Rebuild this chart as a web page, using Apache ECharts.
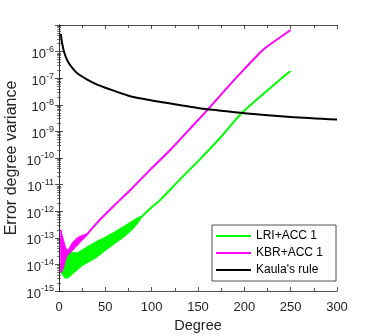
<!DOCTYPE html>
<html>
<head>
<meta charset="utf-8">
<script src="https://cdn.jsdelivr.net/npm/echarts@6/dist/echarts.min.js"></script>
<style>
  html, body { margin: 0; padding: 0; background: #fff; }
  #main { width: 374px; height: 335px; }
</style>
</head>
<body>
<div id="main"></div>
<script>
// Kaula's rule
const kaulaDeg = [2, 3, 4, 5, 7, 10, 15, 20, 30, 40, 50, 75, 100, 125, 150, 175, 200, 250, 300]
const kaulaVal = [4.5e-6, 2.4e-6, 1.6e-6, 1.12e-6, 6.8e-7, 4.0e-7, 2.3e-7, 1.5e-7, 9.1e-8, 6.0e-8, 4.4e-8, 2.2e-8, 1.45e-8, 1.05e-8, 7.6e-9, 6.0e-9, 4.8e-9, 3.5e-9, 2.8e-9]

// LRI+ACC 1 : noisy band at low degrees, then a single line
const lriBandDeg = [2, 4, 6, 8, 10, 12, 15, 20, 25, 30, 40, 50, 60, 70, 80, 88]
const lriBandUpper = [1.12e-14, 1.26e-14, 1.78e-14, 2.5e-14, 3.2e-14, 3.2e-14, 2.8e-14, 2.8e-14, 3.5e-14, 4.5e-14, 7.1e-14, 1.07e-13, 1.66e-13, 2.7e-13, 4.5e-13, 6.3e-13]
const lriBandLower = [5.0e-15, 4.0e-15, 3.2e-15, 3.0e-15, 3.2e-15, 3.5e-15, 4.5e-15, 6.3e-15, 8.9e-15, 1.12e-14, 1.78e-14, 3.3e-14, 6.0e-14, 1.07e-13, 2.2e-13, 5.0e-13]
const lriDeg = [88, 100, 109, 130, 152, 175, 197, 228, 250]
const lriVal = [5.6e-13, 1.4e-12, 2.6e-12, 1.5e-11, 8.9e-11, 6.3e-10, 4.8e-9, 4.3e-8, 1.9e-7]

// KBR+ACC 1
const kbrBandDeg = [2, 3, 5, 7, 9, 11, 14, 18, 22, 26, 30]
const kbrBandUpper = [2.0e-13, 1.41e-13, 7.9e-14, 4.5e-14, 3.5e-14, 4.0e-14, 6.3e-14, 8.9e-14, 1.12e-13, 1.26e-13, 1.41e-13]
const kbrBandLower = [5.0e-15, 5.0e-15, 7.9e-15, 1.41e-14, 2.2e-14, 2.5e-14, 3.2e-14, 4.5e-14, 6.3e-14, 8.9e-14, 1.2e-13]
const kbrDeg = [30, 44, 60, 77, 98, 120, 140, 160, 184, 200, 220, 235, 250]
const kbrVal = [1.32e-13, 4.7e-13, 1.7e-12, 6.3e-12, 3.5e-11, 2.0e-10, 1.12e-9, 6.3e-9, 5.5e-8, 2.2e-7, 1.15e-6, 2.8e-6, 6.5e-6]

const xTicks = [0, 50, 100, 150, 200, 250, 300]

const GREEN = '#00ff00'
const MAGENTA = '#ff00ff'
const AXIS = '#262626'
const FONT = 'Liberation Sans'

const pairs = (xs, ys) => xs.map((x, i) => [x, ys[i]])

// filled band between upper and lower envelope, placed with the axes' own scales
const bandSeries = (color, deg, up, lo) => ({
  type: 'custom',
  silent: true,
  xAxisIndex: 0,
  yAxisIndex: 0,
  data: pairs(deg, up),
  renderItem: (params, api) => {
    if (params.dataIndex !== 0) return
    const top = deg.map((d, i) => api.coord([d, up[i]]))
    const bottom = deg.map((d, i) => api.coord([d, lo[i]])).reverse()
    return {
      type: 'polygon',
      shape: { points: top.concat(bottom), smooth: 0.15 },
      style: { fill: color, stroke: color, lineWidth: 1 }
    }
  }
})

const expLabel = (v) => {
  const e = Math.round(Math.log10(v))
  return '{b|10}{s|' + e + '}'
}

const tickStyle = { inside: true, length: 4, lineStyle: { color: AXIS, width: 0.8 } }
const axisLineStyle = { show: true, lineStyle: { color: AXIS, width: 0.8 } }
const xMinor = { show: true, splitNumber: 2, length: 3, lineStyle: { color: AXIS, width: 0.8 } }
const yMinor = { show: true, splitNumber: 9, length: 2, lineStyle: { color: AXIS, width: 0.6 } }

const option = {
  animation: false,
  backgroundColor: '#fff',
  grid: { left: 59, right: 37, top: 25, bottom: 44, containLabel: false, outerBoundsMode: 'none' },
  legend: {
    data: ['LRI+ACC 1', 'KBR+ACC 1', "Kaula's rule"],
    orient: 'vertical',
    left: 212,
    top: 225,
    padding: [4, 13, 4, 4],
    itemGap: 3,
    icon: 'rect',
    itemWidth: 35,
    itemHeight: 2,
    borderColor: AXIS,
    borderWidth: 0.8,
    borderRadius: 0,
    backgroundColor: '#fff',
    textStyle: { fontFamily: FONT, fontSize: 12, color: '#000', lineHeight: 14 }
  },
  xAxis: [
    {
      type: 'value',
      min: 0,
      max: 300,
      interval: 50,
      name: 'Degree',
      nameLocation: 'middle',
      nameGap: 27,
      nameMoveOverlap: false,
      nameTextStyle: { fontFamily: FONT, fontSize: 14.5, color: AXIS },
      axisLine: axisLineStyle,
      axisTick: tickStyle,
      minorTick: xMinor,
      splitLine: { show: false },
      axisLabel: {
        fontFamily: FONT, fontSize: 13, color: AXIS, margin: 10,
        formatter: (v) => xTicks.includes(v) ? String(v) : ''
      }
    },
    {
      type: 'value',
      position: 'top',
      min: 0,
      max: 300,
      interval: 50,
      axisLine: axisLineStyle,
      axisTick: tickStyle,
      minorTick: xMinor,
      splitLine: { show: false },
      axisLabel: { show: false }
    }
  ],
  yAxis: [
    {
      type: 'log',
      logBase: 10,
      min: 1e-15,
      max: 1e-5,
      splitNumber: 10,
      name: 'Error degree variance',
      nameLocation: 'middle',
      nameGap: 39,
      nameMoveOverlap: false,
      nameTextStyle: { fontFamily: FONT, fontSize: 16, color: AXIS },
      axisLine: axisLineStyle,
      axisTick: tickStyle,
      minorTick: yMinor,
      splitLine: { show: false },
      axisLabel: {
        showMaxLabel: false,
        margin: 5,
        padding: [3, 0, 0, 0],
        formatter: expLabel,
        rich: {
          b: { fontFamily: FONT, fontSize: 13, color: AXIS, verticalAlign: 'bottom', lineHeight: 16 },
          s: { fontFamily: FONT, fontSize: 9, color: AXIS, verticalAlign: 'bottom', lineHeight: 16, padding: [0, 0, 7, 0] }
        }
      }
    },
    {
      type: 'log',
      logBase: 10,
      min: 1e-15,
      max: 1e-5,
      splitNumber: 10,
      position: 'right',
      axisLine: axisLineStyle,
      axisTick: tickStyle,
      minorTick: yMinor,
      splitLine: { show: false },
      axisLabel: { show: false }
    }
  ],
  series: [
    bandSeries(GREEN, lriBandDeg, lriBandUpper, lriBandLower),
    {
      name: 'LRI+ACC 1',
      type: 'line',
      symbol: 'none',
      smooth: 0.3,
      lineStyle: { color: GREEN, width: 2 },
      itemStyle: { color: GREEN },
      data: pairs(lriDeg, lriVal)
    },
    bandSeries(MAGENTA, kbrBandDeg, kbrBandUpper, kbrBandLower),
    {
      name: 'KBR+ACC 1',
      type: 'line',
      symbol: 'none',
      smooth: 0.3,
      lineStyle: { color: MAGENTA, width: 2 },
      itemStyle: { color: MAGENTA },
      data: pairs(kbrDeg, kbrVal)
    },
    {
      name: "Kaula's rule",
      type: 'line',
      symbol: 'none',
      smooth: 0.3,
      lineStyle: { color: '#000', width: 2 },
      itemStyle: { color: '#000' },
      data: pairs(kaulaDeg, kaulaVal)
    }
  ]
}

const myChart = echarts.init(document.getElementById('main'))
myChart.setOption(option)
</script>
</body>
</html>
